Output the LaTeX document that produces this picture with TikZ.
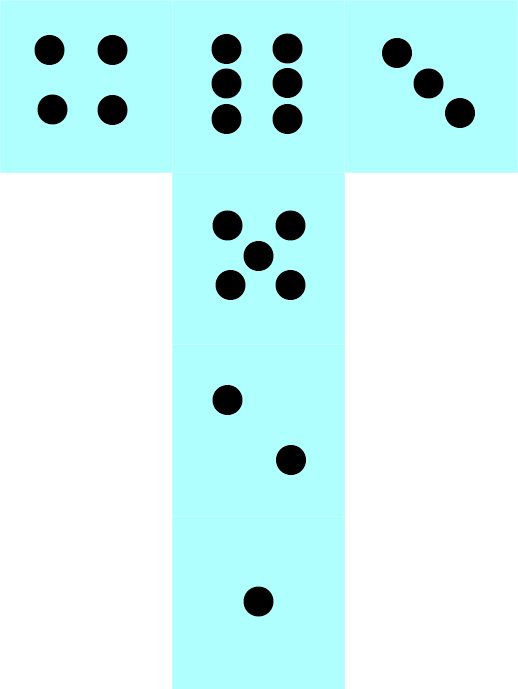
\documentclass[tikz,border=0pt]{standalone}
\usepackage{tikz}
\usetikzlibrary{positioning}
\definecolor{facecyan}{RGB}{175,255,255}
\definecolor{faceedge}{RGB}{196,255,255}

\begin{document}
\begin{tikzpicture}[face/.style={draw=faceedge,fill=facecyan,line width=0.5pt,minimum size=3.446cm,inner sep=0pt},pip/.style={circle,fill=black,minimum size=0.6cm,inner sep=0pt}]
\useasboundingbox (0,0) rectangle (10.34,-13.78);
\node[face] (four) at (1.723,-1.723) {};
\node[face] (six) at (5.170,-1.723) {};
\node[face] (three) at (8.617,-1.723) {};
\node[face] (five) at (5.170,-5.168) {};
\node[face] (two) at (5.170,-8.613) {};
\node[face] (one) at (5.170,-12.058) {};
% four
\node[pip] (f4a) at (0.99,-1.00) {};
\node[pip] (f4b) at (2.25,-1.00) {};
\node[pip] (f4c) at (1.05,-2.19) {};
\node[pip] (f4d) at (2.25,-2.20) {};
% six
\node[pip] (f6a) at (4.53,-0.98) {};
\node[pip] (f6b) at (5.75,-0.97) {};
\node[pip] (f6c) at (4.53,-1.67) {};
\node[pip] (f6d) at (5.75,-1.66) {};
\node[pip] (f6e) at (4.53,-2.38) {};
\node[pip] (f6f) at (5.75,-2.38) {};
% three
\node[pip] (f3a) at (7.94,-1.06) {};
\node[pip] (f3b) at (8.57,-1.67) {};
\node[pip] (f3c) at (9.20,-2.26) {};
% five
\node[pip] (f5a) at (4.55,-4.51) {};
\node[pip] (f5b) at (5.81,-4.51) {};
\node[pip] (f5c) at (5.17,-5.12) {};
\node[pip] (f5d) at (4.61,-5.70) {};
\node[pip] (f5e) at (5.81,-5.70) {};
% two
\node[pip] (f2a) at (4.55,-8.00) {};
\node[pip] (f2b) at (5.82,-9.20) {};
% one
\node[pip] (f1a) at (5.17,-12.03) {};
\end{tikzpicture}
\end{document}
